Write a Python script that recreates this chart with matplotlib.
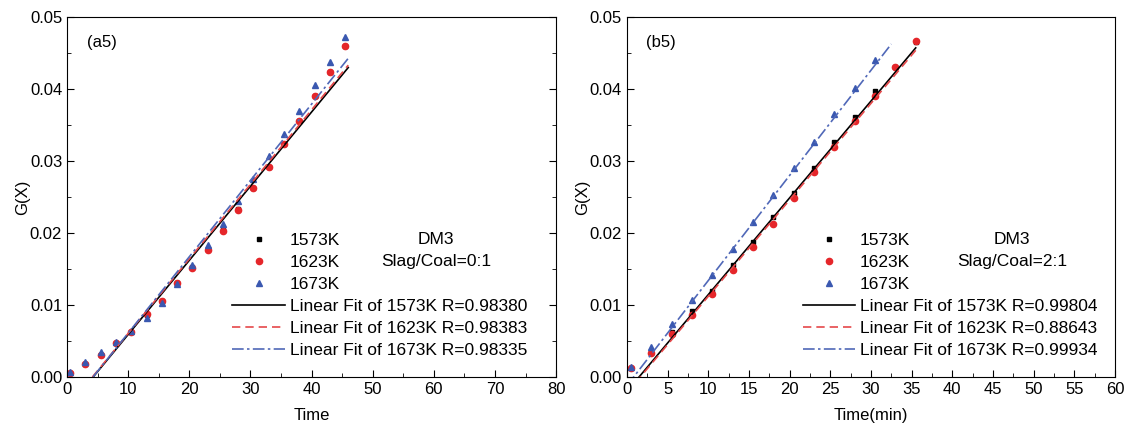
import numpy as np
import matplotlib
matplotlib.use("Agg")
import matplotlib.pyplot as plt
from matplotlib.ticker import MultipleLocator

plt.rcParams["font.family"] = ["Liberation Sans", "DejaVu Sans"]
plt.rcParams["font.size"] = 12

# ---- data: panel (a5), Slag/Coal = 0:1 ----
t_a = [0.5, 3, 5.5, 8, 10.5, 13, 15.5, 18, 20.5, 23, 25.5, 28, 30.5, 33, 35.5, 38, 40.5, 43, 45.5]
a_1573 = [0.0005, 0.0018, 0.0030, 0.0047, 0.0063, 0.0086, 0.0105, 0.0130, 0.0153, 0.0178,
          0.0204, 0.0233, 0.0263, 0.0292, 0.0323, 0.0356, 0.0390, 0.0424, 0.0460]
a_1623 = [0.0005, 0.0018, 0.0030, 0.0047, 0.0063, 0.0087, 0.0105, 0.0130, 0.0152, 0.0177,
          0.0203, 0.0232, 0.0262, 0.0291, 0.0323, 0.0355, 0.0390, 0.0424, 0.0460]
a_1673 = [0.0007, 0.0021, 0.0034, 0.0048, 0.0064, 0.0082, 0.0103, 0.0129, 0.0156, 0.0184,
          0.0213, 0.0244, 0.0275, 0.0307, 0.0338, 0.0370, 0.0405, 0.0438, 0.0472]
# linear fits (slope, intercept, end time)
a_fits = [(0.001030, -0.00440, 46.0), (0.001035, -0.00430, 46.0), (0.001060, -0.00450, 46.0)]
a_R = ["0.98380", "0.98383", "0.98335"]

# ---- data: panel (b5), Slag/Coal = 2:1 ----
t_b = [0.5, 3, 5.5, 8, 10.5, 13, 15.5, 18, 20.5, 23, 25.5, 28, 30.5, 33, 35.5]
b_1573 = [0.0012, 0.0035, 0.0063, 0.0091, 0.0120, 0.0155, 0.0188, 0.0222, 0.0256, 0.0290,
          0.0326, 0.0361, 0.0397, 0.0430, 0.0465]
b_1623 = [0.0012, 0.0033, 0.0059, 0.0086, 0.0115, 0.0148, 0.0180, 0.0213, 0.0249, 0.0285,
          0.0320, 0.0356, 0.0390, 0.0430, 0.0467]
b_1673 = [0.0014, 0.0041, 0.0073, 0.0107, 0.0142, 0.0178, 0.0215, 0.0253, 0.0290, 0.0327,
          0.0365, 0.0402, 0.0440]
t_b_1673 = t_b[:13]
b_fits = [(0.001344, -0.00200, 35.5), (0.001340, -0.00220, 35.5), (0.001460, -0.00120, 32.5)]
b_R = ["0.99804", "0.88643", "0.99934"]

temps = ["1573K", "1623K", "1673K"]
colors = ["black", "#e5262a", "#3a58b0"]
markers = ["s", "o", "^"]
msizes = [3.5, 4.5, 5]
line_colors = ["black", "#e5484a", "#5068b8"]
line_styles = ["-", (0, (5, 3)), (0, (7, 2, 1.5, 2))]

fig = plt.figure(figsize=(11.25, 4.25), dpi=100)
ax_a = fig.add_axes([0.0596, 0.113, 0.4347, 0.847])
ax_b = fig.add_axes([0.5573, 0.113, 0.4338, 0.847])


def draw_panel(ax, series, fits, rvals, xmax, xmajor, xminor, xlabel, tag, ratio,
               leg_anchor, text_x, right_ticks):
    handles = []
    for (tt, yy), c, m, ms, name in zip(series, colors, markers, msizes, temps):
        h, = ax.plot(tt, yy, linestyle="none", marker=m, ms=ms, color=c, label=name)
        handles.append(h)
    for (k, b, tend), c, ls, name, r in zip(fits, line_colors, line_styles, temps, rvals):
        xx = np.array([0.0, tend])
        h, = ax.plot(xx, k * xx + b, color=c, ls=ls, lw=1.2,
                     label="Linear Fit of %s R=%s" % (name, r))
        handles.append(h)
    ax.set_xlim(0, xmax)
    ax.set_ylim(0, 0.05)
    ax.xaxis.set_major_locator(MultipleLocator(xmajor))
    ax.xaxis.set_minor_locator(MultipleLocator(xminor))
    ax.yaxis.set_major_locator(MultipleLocator(0.01))
    ax.yaxis.set_minor_locator(MultipleLocator(0.005))
    ax.yaxis.set_major_formatter(matplotlib.ticker.FormatStrFormatter("%.2f"))
    ax.tick_params(which="both", direction="in", top=False, right=right_ticks, labelsize=12)
    ax.tick_params(which="major", length=5)
    ax.tick_params(which="minor", length=3)
    ax.set_xlabel(xlabel, fontsize=12, labelpad=8)
    ax.set_ylabel("G(X)", fontsize=12, labelpad=0)
    ax.text(0.04, 0.95, tag, transform=ax.transAxes, ha="left", va="top", fontsize=12)
    ax.legend(handles=handles, loc="lower right", bbox_to_anchor=leg_anchor, frameon=False,
              fontsize=12.5, handlelength=3.0, handletextpad=0.3, labelspacing=0.4,
              borderaxespad=0)
    ax.text(text_x, 0.383, "DM3", transform=ax.transAxes, ha="center", va="center", fontsize=12.5)
    ax.text(text_x, 0.322, ratio, transform=ax.transAxes, ha="center", va="center", fontsize=12.5)


draw_panel(ax_a, [(t_a, a_1573), (t_a, a_1623), (t_a, a_1673)], a_fits, a_R,
           80, 10, 5, "Time", "(a5)", "Slag/Coal=0:1", (0.955, 0.033), 0.755, True)
draw_panel(ax_b, [(t_b, b_1573), (t_b, b_1623), (t_b_1673, b_1673)], b_fits, b_R,
           60, 5, 2.5, "Time(min)", "(b5)", "Slag/Coal=2:1", (0.978, 0.033), 0.789, False)

fig.savefig("out.png", dpi=100)
